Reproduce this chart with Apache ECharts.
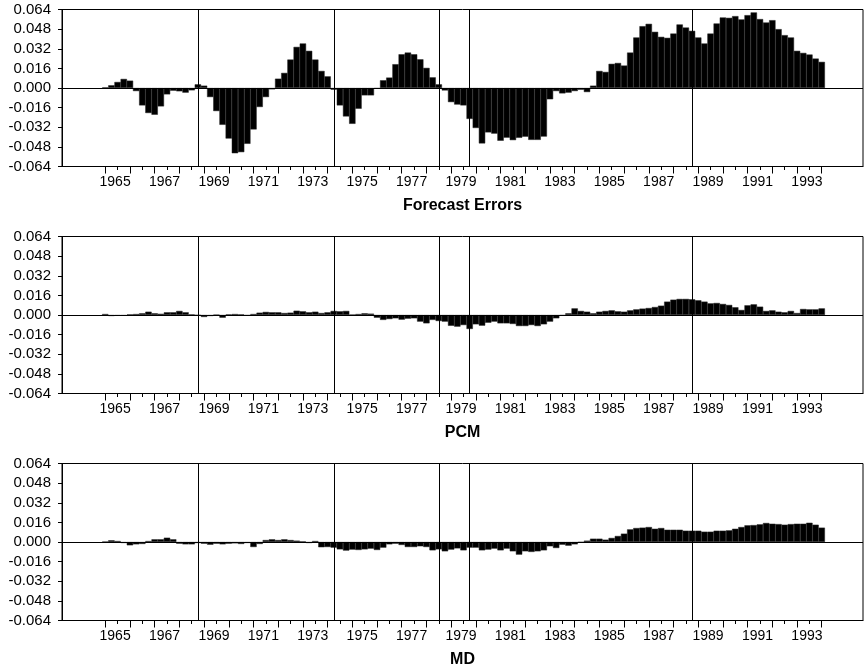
<!DOCTYPE html>
<html>
<head>
<meta charset="utf-8">
<script src="https://cdn.jsdelivr.net/npm/echarts@6/dist/echarts.min.js"></script>
<style>
  html, body { margin: 0; padding: 0; background: #ffffff; }
  #chart { width: 865px; height: 668px; }
</style>
</head>
<body>
<div id="chart"></div>
<script>
// Quarterly series, first observation 1965:1
const startYear = 1965;
const startQuarter = 1;

const forecastErrors = [
  0.0005, 0.0022, 0.0049, 0.0074, 0.0060, -0.0025, -0.0142, -0.0204, -0.0218, -0.0150,
  -0.0052, -0.0022, -0.0027, -0.0038, -0.0019, 0.0030, 0.0019, -0.0074, -0.0188, -0.0300,
  -0.0412, -0.0532, -0.0523, -0.0455, -0.0338, -0.0155, -0.0074, -0.0011, 0.0076, 0.0123,
  0.0232, 0.0335, 0.0363, 0.0303, 0.0232, 0.0139, 0.0095, -0.0014, -0.0142, -0.0232,
  -0.0292, -0.0169, -0.0060, -0.0060, -0.0005, 0.0063, 0.0085, 0.0194, 0.0275, 0.0289,
  0.0275, 0.0234, 0.0164, 0.0087, 0.0030, -0.0020, -0.0115, -0.0135, -0.0142, -0.0252,
  -0.0326, -0.0452, -0.0362, -0.0372, -0.0430, -0.0405, -0.0425, -0.0406, -0.0397, -0.0423,
  -0.0423, -0.0396, -0.0092, -0.0025, -0.0044, -0.0038, -0.0025, -0.0014, -0.0033, 0.0019,
  0.0139, 0.0131, 0.0197, 0.0204, 0.0183, 0.0289, 0.0412, 0.0504, 0.0523, 0.0458,
  0.0417, 0.0409, 0.0444, 0.0518, 0.0493, 0.0466, 0.0412, 0.0363, 0.0444, 0.0526,
  0.0575, 0.0572, 0.0586, 0.0559, 0.0594, 0.0616, 0.0562, 0.0534, 0.0553, 0.0480,
  0.0431, 0.0412, 0.0303, 0.0286, 0.0273, 0.0240, 0.0213
];

const pcm = [
  0.0008, -0.0008, -0.0006, -0.0006, 0.0005, 0.0008, 0.0014, 0.0027, 0.0014, 0.0010,
  0.0022, 0.0022, 0.0033, 0.0022, 0.0005, -0.0003, -0.0016, -0.0008, 0.0002, -0.0022,
  0.0005, 0.0008, 0.0005, -0.0005, 0.0008, 0.0019, 0.0025, 0.0022, 0.0022, 0.0016,
  0.0019, 0.0035, 0.0030, 0.0022, 0.0027, 0.0016, 0.0022, 0.0033, 0.0030, 0.0033,
  0.0003, 0.0008, 0.0014, 0.0011, -0.0022, -0.0040, -0.0033, -0.0027, -0.0038, -0.0030,
  -0.0027, -0.0054, -0.0068, -0.0040, -0.0049, -0.0054, -0.0088, -0.0095, -0.0082, -0.0114,
  -0.0076, -0.0087, -0.0063, -0.0054, -0.0068, -0.0068, -0.0073, -0.0090, -0.0090, -0.0082,
  -0.0090, -0.0076, -0.0054, -0.0027, -0.0005, 0.0014, 0.0054, 0.0033, 0.0027, 0.0014,
  0.0027, 0.0033, 0.0038, 0.0030, 0.0027, 0.0038, 0.0046, 0.0052, 0.0057, 0.0065,
  0.0076, 0.0109, 0.0125, 0.0131, 0.0131, 0.0128, 0.0120, 0.0109, 0.0095, 0.0098,
  0.0090, 0.0082, 0.0063, 0.0041, 0.0079, 0.0087, 0.0068, 0.0033, 0.0038, 0.0027,
  0.0022, 0.0033, 0.0016, 0.0049, 0.0046, 0.0046, 0.0054
];

const md = [
  0.0003, 0.0014, 0.0008, -0.0008, -0.0027, -0.0019, -0.0016, 0.0008, 0.0022, 0.0022,
  0.0035, 0.0022, -0.0014, -0.0019, -0.0019, -0.0008, -0.0014, -0.0022, -0.0014, -0.0019,
  -0.0014, -0.0011, -0.0016, -0.0008, -0.0041, -0.0016, 0.0016, 0.0022, 0.0016, 0.0022,
  0.0016, 0.0011, 0.0005, -0.0008, 0.0008, -0.0043, -0.0041, -0.0046, -0.0060, -0.0070,
  -0.0062, -0.0065, -0.0060, -0.0054, -0.0065, -0.0046, -0.0019, -0.0014, -0.0024, -0.0041,
  -0.0041, -0.0035, -0.0041, -0.0068, -0.0060, -0.0076, -0.0062, -0.0052, -0.0068, -0.0046,
  -0.0046, -0.0068, -0.0062, -0.0054, -0.0068, -0.0054, -0.0076, -0.0103, -0.0076, -0.0081,
  -0.0076, -0.0068, -0.0035, -0.0049, -0.0022, -0.0030, -0.0019, -0.0003, 0.0011, 0.0027,
  0.0027, 0.0019, 0.0033, 0.0049, 0.0068, 0.0103, 0.0114, 0.0117, 0.0122, 0.0108,
  0.0114, 0.0100, 0.0100, 0.0100, 0.0092, 0.0092, 0.0092, 0.0084, 0.0084, 0.0092,
  0.0092, 0.0095, 0.0108, 0.0122, 0.0136, 0.0138, 0.0144, 0.0155, 0.0149, 0.0146,
  0.0141, 0.0146, 0.0149, 0.0149, 0.0157, 0.0141, 0.0117
];

const panelNames = ['Forecast Errors', 'PCM', 'MD'];
const panelSeries = [forecastErrors, pcm, md];

// Dates marked by vertical rules in every panel
const breakDates = ['1968:4', '1974:2', '1978:3', '1979:4', '1988:4'];

// Year ticks (long) and the labelled years
const yearTicks = [1965, 1966, 1967, 1968, 1969, 1970, 1971, 1972, 1973, 1974,
  1975, 1976, 1977, 1978, 1979, 1980, 1981, 1982, 1983, 1984,
  1985, 1986, 1987, 1988, 1989, 1990, 1991, 1992, 1993, 1994];
const yearLabels = ['1965', '1967', '1969', '1971', '1973', '1975', '1977', '1979',
  '1981', '1983', '1985', '1987', '1989', '1991', '1993'];

// Value axis
const yMin = -0.064, yMax = 0.064, yStep = 0.016;

// ---- layout ----
const FONT = '"Liberation Sans", Arial, Helvetica, sans-serif';
const gridLeft = 62, gridRight = 2;
const panelTops = [9.5, 236.5, 463.5];
const panelHeight = 157;
const xMin = 1963.25, xMax = 1995.67;
const labelShift = 0.4;   // year labels sit inside their year span

function dateToX(s) {
  const [y, q] = s.split(':').map(Number);
  return y + (q - 1) / 4;
}
function seriesPoints(values) {
  return values.map((v, i) => [startYear + (startQuarter - 1 + i) / 4, v]);
}

const grids = [], xAxes = [], yAxes = [], series = [], titles = [];

panelSeries.forEach((values, p) => {
  grids.push({
    left: gridLeft, right: gridRight, top: panelTops[p], height: panelHeight,
    show: true, borderColor: '#000', borderWidth: 1, backgroundColor: 'transparent'
  });
  // main time axis: year ticks + labels
  xAxes.push({
    type: 'value', gridIndex: p, position: 'bottom', min: xMin, max: xMax,
    axisLine: { show: true, onZero: false, lineStyle: { color: '#000', width: 1 } },
    axisTick: { show: true, length: 7, customValues: yearTicks, lineStyle: { color: '#000', width: 1 } },
    axisLabel: {
      show: true, margin: 9, color: '#000', fontFamily: FONT, fontSize: 14,
      customValues: yearLabels.map(s => Number(s) + labelShift),
      formatter: v => String(Math.round(v - labelShift))
    },
    splitLine: { show: false }
  });
  // half-year ticks
  xAxes.push({
    type: 'value', gridIndex: p, position: 'bottom', min: xMin, max: xMax,
    axisLine: { show: false, onZero: false },
    axisTick: { show: true, length: 3.5, customValues: yearTicks.slice(0, -1).map(y => y + 0.5),
      lineStyle: { color: '#000', width: 1 } },
    axisLabel: { show: false },
    splitLine: { show: false }
  });
  yAxes.push({
    type: 'value', gridIndex: p, min: yMin, max: yMax, interval: yStep,
    axisLine: { show: true, lineStyle: { color: '#000', width: 1 } },
    axisTick: { show: true, length: 4, lineStyle: { color: '#000', width: 1 } },
    axisLabel: {
      color: '#000', fontFamily: FONT, fontSize: 15, margin: 11,
      formatter: v => (Math.abs(v) < 1e-9 ? 0 : v).toFixed(3)
    },
    splitLine: { show: false }
  });
  series.push({
    type: 'bar', name: panelNames[p],
    xAxisIndex: p * 2, yAxisIndex: p,
    data: seriesPoints(values),
    barWidth: '103%',
    itemStyle: { color: '#000', borderColor: '#222', borderWidth: 0.5 },
    silent: true,
    markLine: {
      silent: true, symbol: 'none', animation: false,
      label: { show: false },
      lineStyle: { color: '#000', width: 1, type: 'solid' },
      data: [{ yAxis: 0 }].concat(breakDates.map(d => ({ xAxis: dateToX(d) })))
    }
  });
  titles.push({
    text: panelNames[p], left: gridLeft + (865 - gridLeft - gridRight) / 2, textAlign: 'center',
    top: panelTops[p] + panelHeight + 31, padding: 0,
    textStyle: { fontFamily: FONT, fontSize: 16, fontWeight: 'bold', color: '#000' }
  });
});

const chart = echarts.init(document.getElementById('chart'), null, { renderer: 'canvas' });
chart.setOption({
  animation: false,
  backgroundColor: '#fff',
  title: titles,
  grid: grids,
  xAxis: xAxes,
  yAxis: yAxes,
  series: series
});
</script>
</body>
</html>
